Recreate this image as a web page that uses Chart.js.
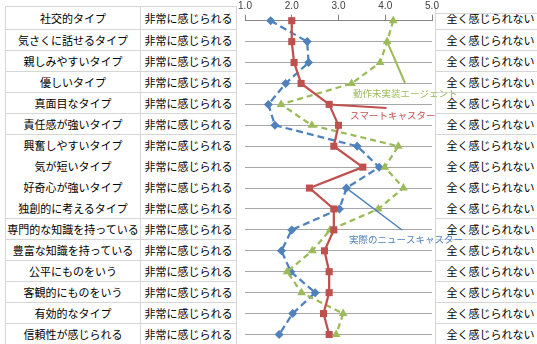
<!DOCTYPE html>
<html lang="ja">
<head>
<meta charset="utf-8">
<title>キャスター印象評価</title>
<script src="https://cdn.jsdelivr.net/npm/chart.js@4.4.1/dist/chart.umd.min.js"></script>
<style>
  html, body {
    margin: 0;
    padding: 0;
    background: #fff;
  }
  #wrap {
    position: relative;
    width: 537px;
    height: 344px;
    overflow: hidden;
    font-family: "Noto Sans CJK JP", "Noto Sans", sans-serif;
    font-size: 11px;
    color: #000;
  }
  #table {
    position: absolute;
    left: 0;
    top: 0;
    width: 537px;
    height: 344px;
    z-index: 1;
  }
  .cell {
    position: absolute;
    box-sizing: border-box;
    border-left: 1px solid #d6d6d6;
    display: flex;
    align-items: center;
    justify-content: center;
    white-space: nowrap;
    background: #fff;
  }
  .cell.ruled {
    border-top: 1px solid #d6d6d6;
  }
  .rule {
    position: absolute;
    height: 0;
    border-top: 1px solid #d6d6d6;
  }
  #chart {
    position: absolute;
    left: 0;
    top: 0;
    z-index: 2;
  }
</style>
</head>
<body>
<div id="wrap">
  <div id="table"></div>
  <canvas id="chart" width="537" height="344"></canvas>
</div>
<script>
// Trait items (rows, top to bottom)
const traits = [
  "社交的タイプ",
  "気さくに話せるタイプ",
  "親しみやすいタイプ",
  "優しいタイプ",
  "真面目なタイプ",
  "責任感が強いタイプ",
  "興奮しやすいタイプ",
  "気が短いタイプ",
  "好奇心が強いタイプ",
  "独創的に考えるタイプ",
  "専門的な知識を持っている",
  "豊富な知識を持っている",
  "公平にものをいう",
  "客観的にものをいう",
  "有効的なタイプ",
  "信頼性が感じられる",
]

// Scale anchors on either side
const leftAnchor = "非常に感じられる"
const rightAnchor = "全く感じられない"

// Scale range (1.0 - 5.0)
const scaleMin = 1
const scaleMax = 5
const scaleStep = 1

// Mean ratings per trait
const smartCaster = [2.0, 2.0, 2.05, 2.2, 2.8, 3.0, 2.9, 3.52, 2.38, 2.9, 2.9, 2.7, 2.8, 2.8, 2.68, 2.8]
const agentNoMotion = [4.17, 4.04, 3.89, 3.28, 1.77, 2.43, 4.28, 3.99, 4.39, 3.85, 2.82, 2.44, 1.9, 2.21, 3.1, 2.95]
const realCaster = [1.55, 2.33, 2.36, 1.87, 1.5, 1.64, 3.4, 3.87, 3.17, 3.02, 2.0, 1.78, 1.98, 2.5, 2.02, 1.73]

const seriesNames = ["スマートキャスター", "動作未実装エージェント", "実際のニュースキャスター"]

// Side tables
function buildTables() {
  const host = document.getElementById("table")
  // rows 7-10 share one block without inner rules
  const noRule = [7, 8, 9]
  const rowTop = (i) => (i === 0 ? 6 : 29 + (i - 1) * 21)
  const rowHeight = (i) => (i === 0 ? 23 : 21)

  traits.forEach((name, i) => {
    const ruled = !noRule.includes(i)
    const cols = [
      { left: 5, width: 135, text: name },
      { left: 140, width: 97, text: leftAnchor, right: true },
      { left: 435, width: 110, text: rightAnchor, rightSide: true },
    ]
    cols.forEach((c) => {
      const d = document.createElement("div")
      d.className = "cell" + (ruled && !(c.rightSide && i === 0) ? " ruled" : "")
      d.style.left = c.left + "px"
      d.style.top = rowTop(i) + "px"
      d.style.width = c.width + "px"
      d.style.height = rowHeight(i) + "px"
      if (c.right) d.style.borderRight = "1px solid #d6d6d6"
      d.textContent = c.text
      host.appendChild(d)
    })
  })

  const top = document.createElement("div")
  top.className = "rule"
  top.style.left = "435px"
  top.style.top = "13px"
  top.style.width = "110px"
  host.appendChild(top)
}

// Series name labels with leader lines
const seriesLabels = {
  id: "seriesLabels",
  afterDatasetsDraw(chart, args, opts) {
    const { ctx } = chart
    const { x, y } = chart.scales
    ctx.save()
    opts.items.forEach((item) => {
      const ds = chart.data.datasets[item.dataset]
      const px = x.getPixelForValue(ds.data[item.index])
      const py = y.getPixelForValue(item.index)
      ctx.strokeStyle = ds.borderColor
      ctx.lineWidth = item.lineWidth
      ctx.setLineDash([])
      ctx.beginPath()
      ctx.moveTo(px, py)
      ctx.lineTo(item.to[0], item.to[1])
      ctx.stroke()

      ctx.font = "9.5px 'Noto Sans CJK JP'"
      ctx.fillStyle = item.color
      ctx.textBaseline = "middle"
      ctx.textAlign = "left"
      ctx.fillText(ds.label, item.textX, item.textY)
    })
    ctx.restore()
  },
}

function initChart() {
  const ctx = document.getElementById("chart")
  new Chart(ctx, {
    type: "line",
    data: {
      labels: traits,
      datasets: [
        {
          label: seriesNames[0],
          data: smartCaster,
          borderColor: "#c0504d",
          backgroundColor: "#c0504d",
          borderWidth: 2.25,
          pointStyle: "rect",
          pointRadius: 5,
          pointBorderWidth: 0,
          clip: false,
        },
        {
          label: seriesNames[1],
          data: agentNoMotion,
          borderColor: "#9bbb59",
          backgroundColor: "#9bbb59",
          borderWidth: 2.25,
          borderDash: [6, 4],
          pointStyle: "triangle",
          pointRadius: 5,
          pointBorderWidth: 0,
          clip: false,
        },
        {
          label: seriesNames[2],
          data: realCaster,
          borderColor: "#4f81bd",
          backgroundColor: "#4f81bd",
          borderWidth: 2.25,
          borderDash: [7, 4],
          pointStyle: "rectRot",
          pointRadius: 4.5,
          pointBorderWidth: 0,
          clip: false,
        },
      ],
    },
    options: {
      responsive: false,
      animation: false,
      indexAxis: "y",
      layout: {
        padding: { left: 245, right: 105, top: 0, bottom: 9.5 },
      },
      plugins: {
        legend: { display: false },
        tooltip: { enabled: false },
        seriesLabels: {
          items: [
            { dataset: 1, index: 1, to: [405, 83], lineWidth: 2, textX: 353, textY: 93, color: "#9bbb59" },
            { dataset: 0, index: 4, to: [386.5, 108], lineWidth: 2, textX: 350, textY: 115, color: "#c0504d" },
            { dataset: 2, index: 8, to: [402, 230], lineWidth: 1.5, textX: 349, textY: 239, color: "#4f81bd" },
          ],
        },
      },
      scales: {
        x: {
          type: "linear",
          position: "top",
          min: scaleMin,
          max: scaleMax,
          ticks: {
            stepSize: scaleStep,
            callback: (v) => Number(v).toFixed(1),
            font: { family: "Liberation Sans", size: 10 },
            color: "#404040",
            padding: 2,
            maxRotation: 0,
          },
          grid: {
            drawOnChartArea: false,
            drawTicks: true,
            tickLength: 6,
            color: "#868686",
          },
          border: { display: true, color: "#868686" },
          afterFit: (scale) => {
            scale.height = 20.7
          },
        },
        y: {
          type: "category",
          ticks: { display: false },
          grid: { color: "#a6a6a6", drawTicks: false },
          border: { display: false },
          afterFit: (scale) => {
            scale.width = 0
          },
        },
      },
    },
    plugins: [seriesLabels],
  })
}

document.addEventListener("DOMContentLoaded", () => {
  buildTables()
  initChart()
})
</script>
</body>
</html>
